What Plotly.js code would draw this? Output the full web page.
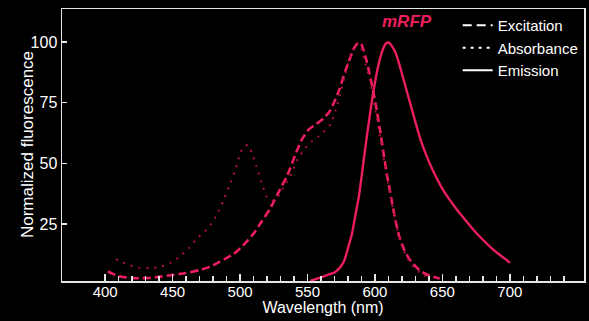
<!DOCTYPE html>
<html>
<head>
<meta charset="utf-8">
<script src="https://cdn.plot.ly/plotly-3.0.1.min.js"></script>
<style>
  html, body { margin: 0; padding: 0; background: #000; }
  #chart { width: 589px; height: 321px; }
</style>
</head>
<body>
<div id="chart"></div>
<script>
// Excitation spectrum (dashed)
const excitationNm = [402, 410, 420, 430, 440, 450, 460, 470, 478, 485, 495, 502, 510, 516, 522, 528, 535, 542, 546, 551, 556, 562, 566, 570, 574, 578, 582, 585, 588, 590, 593, 596, 599, 601, 604, 606, 609, 612, 615, 618, 622, 625, 628, 633, 638, 643, 648];
const excitationVal = [5.4, 3.5, 2.7, 2.7, 3.2, 4.0, 4.8, 6.0, 7.4, 9.5, 12.5, 16, 21, 26, 31, 37.5, 45, 55, 60, 64, 66, 68.6, 71, 75.5, 81, 88, 94, 98, 99.8, 99, 94, 87, 79, 73, 63, 55.5, 45, 36, 27, 20, 14, 11, 8.8, 6, 4.3, 3.3, 2.5];

// Absorbance spectrum (dotted)
const absorbanceNm = [408, 412, 418, 425, 433, 440, 448, 455, 462, 468, 474, 478, 482, 488, 493, 497, 500, 503, 506, 509, 512, 516, 520, 524, 529, 533, 537, 543, 548, 553, 558, 563, 567, 571, 575, 579, 583, 586, 589, 592, 596, 600, 604, 608, 612, 616, 620, 625, 630, 636, 642];
const absorbanceVal = [10.5, 9.5, 8, 7, 6.8, 7.2, 8.8, 11.5, 15, 19, 22, 24.6, 28, 35, 42, 48, 54, 57, 57.5, 54, 49, 42, 36, 34.5, 37, 41, 44.5, 52, 56, 59, 61, 63.5, 66, 72, 80, 89, 96, 99.5, 99, 93, 85, 73, 60, 47, 35, 24, 16, 10, 6.5, 4, 3];

// Emission spectrum (solid)
const emissionNm = [552, 560, 566, 570, 574, 577, 579, 581, 583, 585, 588, 590, 593, 596, 599, 602, 605, 608, 610, 612, 615, 618, 622, 626, 630, 634, 638, 643, 650, 656, 662, 668, 674, 680, 686, 692, 698, 700];
const emissionVal = [1.5, 3, 4.2, 5, 7, 9.5, 13, 17, 21, 27, 36, 44, 57, 69, 80, 89, 95.5, 99.3, 99.8, 98.8, 96, 91, 83, 75, 67, 59.5, 53.5, 47, 39.5, 34.5, 30, 26, 22, 18.5, 15.3, 12.5, 10, 9];

// Axis ticks
const xTickVals = [400, 450, 500, 550, 600, 650, 700];
const xTickText = ["400", "450", "500", "550", "600", "650", "700"];
const xMinorVals = [410, 420, 430, 440, 460, 470, 480, 490, 510, 520, 530, 540, 560, 570, 580, 590, 610, 620, 630, 640, 660, 670, 680, 690, 710, 720, 730, 740];
const yTickVals = [25, 50, 75, 100];
const yTickText = ["25", "50", "75", "100"];

const red = 'rgb(236,30,92)';
const darkRed = 'rgb(175,18,60)';
const font = 'Liberation Sans, Arial, Helvetica, sans-serif';

const traces = [
  { x: excitationNm, y: excitationVal, mode: 'lines', name: 'Excitation', showlegend: false,
    line: { color: red, width: 2.6, dash: '8px,4px', shape: 'spline', smoothing: 0.5 } },
  { x: absorbanceNm, y: absorbanceVal, mode: 'lines', name: 'Absorbance', showlegend: false,
    line: { color: darkRed, width: 2, dash: '2px,6px', shape: 'spline', smoothing: 0.5 } },
  { x: emissionNm, y: emissionVal, mode: 'lines', name: 'Emission', showlegend: false,
    line: { color: red, width: 2.4, shape: 'spline', smoothing: 0.5 } },
  // legend-only entries (white samples as in the reference)
  { x: [null], y: [null], mode: 'lines', name: 'Excitation', line: { color: '#fff', width: 2.2, dash: '9px,5px' } },
  { x: [null], y: [null], mode: 'lines', name: 'Absorbance', line: { color: '#fff', width: 2.2, dash: '3px,5px' } },
  { x: [null], y: [null], mode: 'lines', name: 'Emission', line: { color: '#fff', width: 2.2 } }
];

const layout = {
  width: 589, height: 321,
  paper_bgcolor: '#000', plot_bgcolor: '#000',
  margin: { l: 62, r: 5, t: 9, b: 40 },
  font: { family: font, color: '#fff', size: 15 },
  showlegend: true,
  legend: { x: 0.758, xanchor: 'left', y: 1.0, yanchor: 'top', bgcolor: 'rgba(0,0,0,0)',
            font: { family: font, size: 15, color: '#fff' }, tracegroupgap: 0 },
  xaxis: {
    range: [368, 755], showgrid: false, zeroline: false,
    showline: true, linecolor: '#e6e6e6', linewidth: 1.5, mirror: true,
    ticks: 'inside', ticklen: 7, tickwidth: 1.5, tickcolor: '#e6e6e6',
    tickmode: 'array', tickvals: xTickVals, ticktext: xTickText,
    tickfont: { family: font, size: 15, color: '#fff' }, ticklabelstandoff: -4,
    minor: { tickmode: 'array', tickvals: xMinorVals, ticks: 'inside', ticklen: 5, tickwidth: 1.5, tickcolor: '#e6e6e6', showgrid: false },
    automargin: true,
    title: { text: 'Wavelength (nm)', font: { family: font, size: 16, color: '#fff' }, standoff: 2 }
  },
  yaxis: {
    range: [1.5, 113.6], showgrid: false, zeroline: false,
    showline: true, linecolor: '#e6e6e6', linewidth: 1.5, mirror: true,
    ticks: 'inside', ticklen: 5, tickwidth: 1.5, tickcolor: '#e6e6e6',
    tickmode: 'array', tickvals: yTickVals, ticktext: yTickText,
    tickfont: { family: font, size: 16, color: '#fff' },
    automargin: false,
    title: { text: '' }
  },
  annotations: [
    { text: '<b><i>mRFP</i></b>', xref: 'paper', yref: 'paper', x: 0.661, y: 0.995,
      showarrow: false, font: { family: font, size: 17, color: red } },
    { text: 'Normalized fluorescence', xref: 'paper', yref: 'paper', x: -0.067, y: 0.50,
      xanchor: 'center', yanchor: 'middle', textangle: -90, showarrow: false,
      font: { family: font, size: 17, color: '#fff' } }
  ]
};

Plotly.newPlot('chart', traces, layout, { staticPlot: true, displayModeBar: false });
</script>
</body>
</html>
